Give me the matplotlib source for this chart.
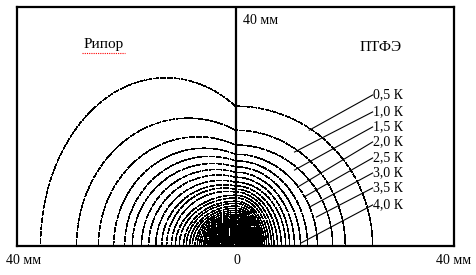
import numpy as np
import matplotlib
matplotlib.use("Agg")
import matplotlib.pyplot as plt

plt.rcParams['font.family'] = ['Liberation Serif', 'DejaVu Serif']

# contour geometry (mm), levels 0.5 K, 1.0 K, 1.5 K, ...
left_r = [35.7, 29.1, 25.1, 22.3, 20.3, 18.9, 17.2, 15.9, 14.6, 13.5,
          12.6, 11.7, 11.0, 10.3, 9.5, 9.0, 8.4, 7.9, 7.4, 7.0,
          6.6, 6.25, 5.9, 5.6, 5.3, 5.0, 4.75, 4.5, 4.25, 4.0,
          3.8, 3.6, 3.4, 3.2, 3.0, 2.8, 2.6, 2.4, 2.2, 2.0,
          1.8, 1.6, 1.4, 1.2, 1.0, 0.8, 0.6]
center_h = [25.6, 21.2, 18.5, 16.8, 15.6, 14.5, 13.5, 12.6, 11.7, 11.0,
            10.4, 9.9, 9.3, 8.8, 8.2, 7.8, 7.3, 6.9, 6.5, 6.15,
            5.8, 5.5, 5.2, 4.95, 4.7, 4.45, 4.2, 4.0, 3.8, 3.6,
            3.4, 3.2, 3.0, 2.85, 2.7, 2.55, 2.4, 2.25, 2.1, 1.95,
            1.8, 1.6, 1.4, 1.2, 1.0, 0.8, 0.6]
peak_h = [30.8, 23.4, 20.0, 17.9, 16.4, 15.1, 14.0, 13.0, 12.0, 11.2,
          10.6, 10.0, 9.3, 8.8, 8.2, 7.8, 7.3, 6.9, 6.5, 6.15,
          5.8, 5.5, 5.2, 4.95, 4.7, 4.45, 4.2, 4.0, 3.8, 3.6,
          3.4, 3.2, 3.0, 2.85, 2.7, 2.55, 2.4, 2.25, 2.1, 1.95,
          1.8, 1.6, 1.4, 1.2, 1.0, 0.8, 0.6]
right_r = [25.1, 20.1, 17.8, 15.0, 13.2, 11.9, 10.8, 9.9, 9.2, 8.4,
           7.7, 7.05, 6.6, 6.1, 5.7, 5.3, 5.0, 4.75, 4.5, 4.25,
           4.0, 3.8, 3.6, 3.4, 3.25, 3.1, 2.95, 2.8, 2.65, 2.5,
           2.35, 2.2, 2.05, 1.9, 1.78, 1.66, 1.54, 1.42, 1.3, 1.18,
           1.06, 0.94, 0.82, 0.7, 0.58, 0.46, 0.34]

level_labels = ["0,5 К", "1,0 К", "1,5 К", "2,0 К", "2,5 К", "3,0 К", "3,5 К", "4,0 К"]
label_x = 25.1
label_y = [27.64, 24.54, 21.79, 19.04, 16.11, 13.36, 10.62, 7.51]
leader_end_x = [13.5, 10.8, 10.8, 11.4, 12.6, 13.5, 14.8, 11.9]
leader_end_y = [21.2, 17.2, 13.9, 10.8, 9.0, 7.1, 5.3, 0.5]

W, H = 476, 275
fig = plt.figure(figsize=(W / 100, H / 100), dpi=100)
ax = fig.add_axes([17 / W, 29 / H, 437 / W, 239 / H])
ax.set_xlim(-40, 40)
ax.set_ylim(0, 43.75)
ax.set_xticks([])
ax.set_yticks([])
for s in ax.spines.values():
    s.set_linewidth(1.6)
    s.set_color('black')

lw = 0.3
ls = (0, (14, 3))
for rL, h0, hp, rR in zip(left_r, center_h, peak_h, right_r):
    # left side: ellipse shifted to the left, clipped at the centre line
    if hp > h0:
        s = np.sqrt(1 - (h0 / hp) ** 2)
        d = rL * s / (1 + s)
    else:
        d = 0.0
    a = rL - d
    t0 = np.arccos(min(d / a, 1.0))
    t = np.linspace(t0, np.pi, 300)
    ax.plot(-d + a * np.cos(t), hp * np.sin(t), color='black', lw=lw, ls=ls,
            antialiased=False)
    # right side: quarter ellipse
    t = np.linspace(0, np.pi / 2, 300)
    ax.plot(rR * np.cos(t), h0 * np.sin(t), color='black', lw=lw, ls=ls,
            antialiased=False)

ax.axvline(0, color='black', lw=1.6)

for txt, ly, ex, ey in zip(level_labels, label_y, leader_end_x, leader_end_y):
    ax.plot([ex, label_x], [ey, ly], color='black', lw=0.8)
    ax.text(label_x + 0.1, ly, txt, ha='left', va='center', fontsize=10)

ax.text(-24.2, 36.8, "Рипор", ha='center', va='center', fontsize=11)
ax.plot([-28.1, -20.3], [35.4, 35.4], color='red', lw=0.8, ls=(0, (1, 1)))
ax.text(26.5, 36.4, "ПТФЭ", ha='center', va='center', fontsize=11)

fig.text(24 / W, 1 - 260 / H, "40 мм", ha='center', va='center', fontsize=10)
fig.text(237 / W, 1 - 260 / H, "0", ha='center', va='center', fontsize=10)
fig.text(454 / W, 1 - 260 / H, "40 мм", ha='center', va='center', fontsize=10)
fig.text(243 / W, 1 - 20 / H, "40 мм", ha='left', va='center', fontsize=10)

fig.savefig("out.png", dpi=100)
